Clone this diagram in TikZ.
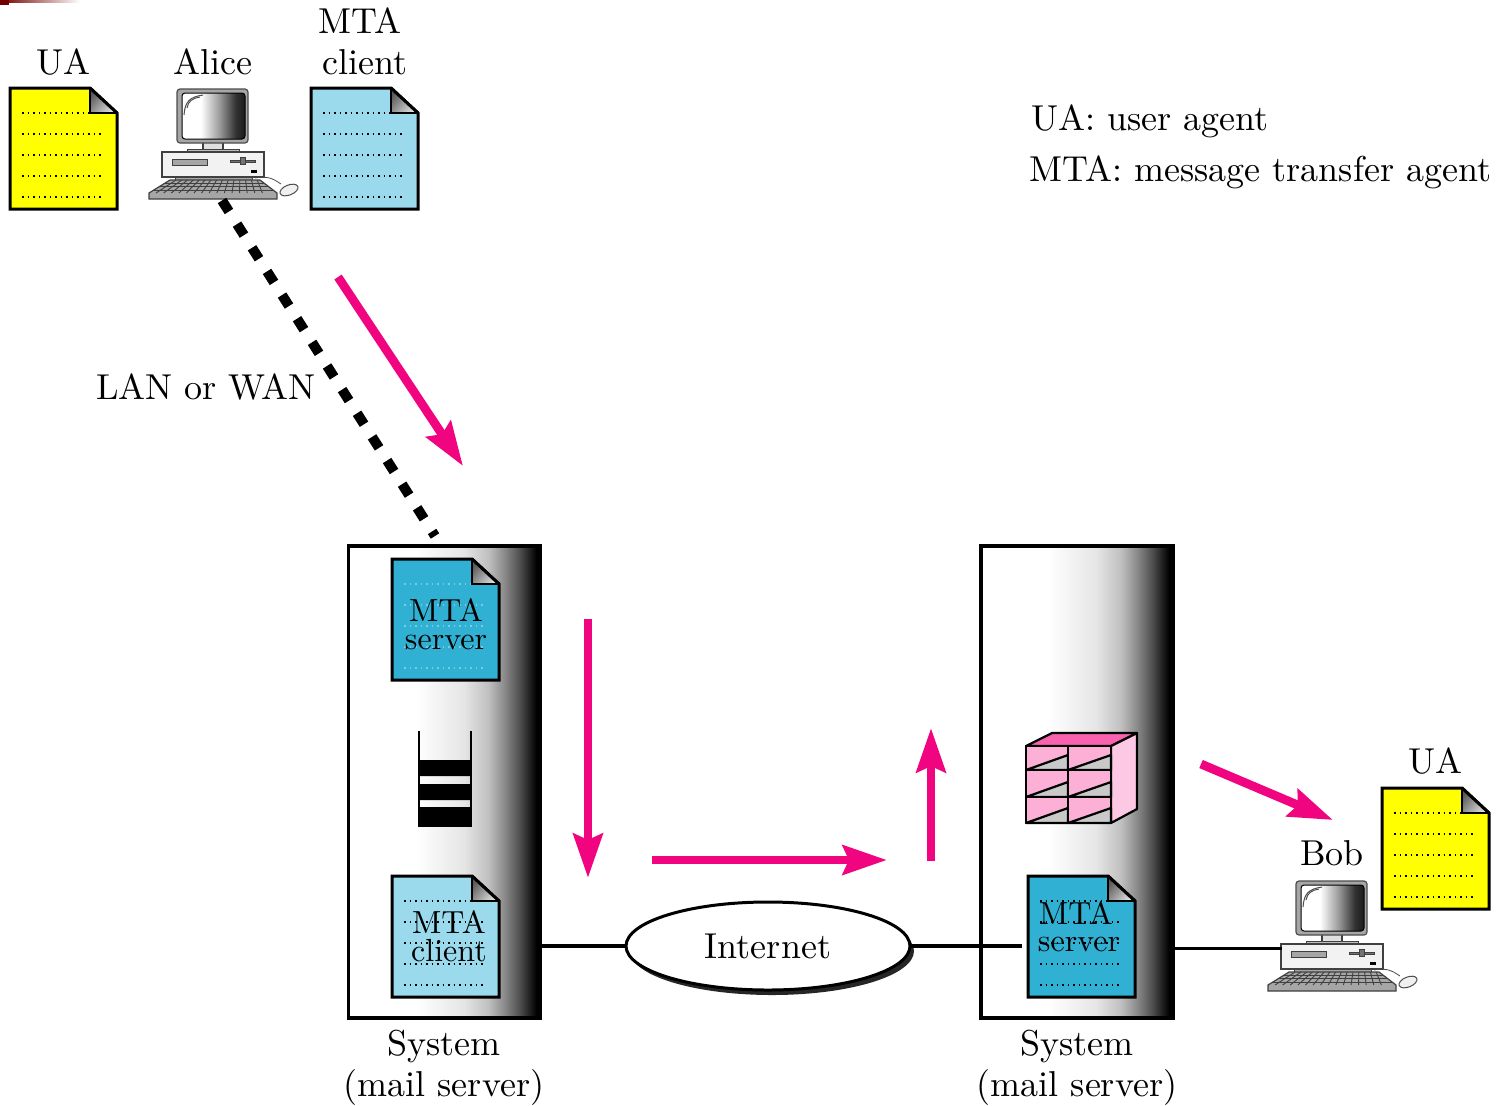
\documentclass[tikz,border=0pt]{standalone}
\usepackage{fontspec}
\setmainfont{lmroman10-regular}[Extension=.otf]
\usetikzlibrary{arrows.meta,shapes.geometric}
\definecolor{magen}{HTML}{F00480}
\definecolor{uayellow}{HTML}{FFFF00}
\definecolor{clientblue}{HTML}{9BD9EC}
\definecolor{serverblue}{HTML}{30B0D2}
\definecolor{boxpink}{HTML}{FCB0D6}
\definecolor{toppink}{HTML}{F962AE}
\definecolor{sidepink}{HTML}{FDC8E3}
\definecolor{slotgray}{HTML}{C9C9C9}
\pgfdeclarehorizontalshading{sysshade}{100bp}{color(0bp)=(white);color(42.5bp)=(white);color(55bp)=(black!10);color(61.5bp)=(black!25);color(66bp)=(black!48);color(70bp)=(black!72);color(74bp)=(black);color(100bp)=(black)}
\pgfdeclarehorizontalshading{screenshade}{100bp}{color(0bp)=(white);color(40bp)=(white);color(55bp)=(black!40);color(67.5bp)=(black!80);color(75bp)=(black!90);color(100bp)=(black!90)}
\tikzset{
  x=0.5pt,y=-0.5pt,
  lbl/.style={font=\fontsize{18}{20}\selectfont,anchor=base,inner sep=0pt,text=black},
  smalllbl/.style={lbl,font=\fontsize{16}{18}\selectfont},
  sysbox/.style={draw=black,line width=1.6pt,shading=sysshade,minimum width=96pt,minimum height=236pt,inner sep=0pt,outer sep=0pt},
  docnode/.style={minimum width=53.5pt,minimum height=60.5pt,inner sep=0pt,outer sep=0pt},
  docedge/.style={draw=black,line width=1.5pt,line join=miter},
  dotrow/.style={line width=0.75pt,dash pattern=on 0.75pt off 2pt},
  flow/.style={draw=magen,line width=4.4pt,-{Stealth[length=22pt,width=14.5pt,inset=3pt,fill=magen]}},
  wire/.style={draw=black,line width=1.7pt},
  lanlink/.style={draw=black,line width=5pt,dash pattern=on 6.5pt off 7.5pt},
  gearline/.style={draw=black!75,line width=0.5pt},
  cloudnode/.style={draw=black,line width=1.5pt,fill=white,ellipse,minimum width=142pt,minimum height=44pt,inner sep=0pt,outer sep=0pt,font=\fontsize{18}{20}\selectfont,text=black},
}
\newcommand{\docfile}[5]{%
  \node[docnode] (#1) at (#2+53.5,#3+60.5) {};
  \begin{scope}[shift={(#2,#3)}]
    \path[fill=#4,docedge] (0,0) -- (80,0) -- (107,25) -- (107,121) -- (0,121) -- cycle;
    \foreach \yy in {46,67,88,109} \draw[#5,dotrow] (12,\yy) -- (91,\yy);
    \draw[#5,dotrow] (12,25) -- (80,25);
    \shade[left color=black!65,right color=black!12,shading angle=50] (80,0) -- (107,25) -- (80,25) -- cycle;
    \draw[line width=1.3pt,line join=miter] (80,0) -- (80,25) -- (107,25);
    \draw[docedge] (80,0) -- (107,25);
  \end{scope}}
\newcommand{\computer}[3]{%
  \begin{scope}[shift={(#2,#3)}]
    \node[inner sep=0pt,outer sep=0pt,minimum width=64pt,minimum height=55pt] (#1) at (224,145) {};
    \path[fill=black!12,gearline,line width=0.6pt] (203,142) rectangle (223,150);
    \path[fill=black!25,gearline] (187,149) rectangle (239,153);
    \path[fill=black!35,draw=black!70,line width=0.6pt,rounded corners=1.5pt] (177,89) rectangle (248,143);
    \path[shading=screenshade,draw=black,line width=0.5pt,rounded corners=1.5pt] (182,93) rectangle (245,139);
    \draw[black!70,line width=0.5pt] (184,115) .. controls (185,101) and (190,97) .. (203,95);
    \draw[black!70,line width=0.5pt] (187,108) .. controls (188,101) and (193,98) .. (200,97);
    \path[fill=black!5,gearline,line width=0.6pt] (162,152) rectangle (264,177);
    \path[fill=black!35,gearline] (172,159) rectangle (207,165);
    \path[fill=black!55,gearline] (230,160) rectangle (255,162);
    \path[fill=black!55,gearline] (240,157) rectangle (245,164);
    \path[fill=black] (251,170) rectangle (257,173);
    \path[fill=black!35,gearline] (175,177) rectangle (252,180);
    \path[fill=black!35,gearline,line width=0.6pt] (170,180) -- (260,180) -- (277,193) -- (277,199) -- (149,199) -- (149,193) -- cycle;
    \foreach \ky in {183,186.5,190} \draw[black!75,line width=0.4pt] ({170-(\ky-180)*1.6},\ky) -- ({260+(\ky-180)*1.3},\ky);
    \foreach \kx in {0,...,14} \draw[black!75,line width=0.45pt] ({176+\kx*5.8},180) -- ({156+\kx*7.6},193);
    \draw[black!70,line width=0.4pt] (255,178) .. controls (268,176) and (272,178) .. (281,184);
    \path[fill=black!6,draw=black!70,line width=0.5pt,rotate around={22:(289,190)}] (289,190) ellipse [x radius=9.5,y radius=5];
  \end{scope}}
\begin{document}
\begin{tikzpicture}
\useasboundingbox (0,0) rectangle (1499,1105);
% slide corner mark
\shade[left color=red!45!black,right color=white] (0,0) rectangle (80,2);
\fill[red!45!black] (0,0) rectangle (9,5);
% connectors anchors
\coordinate (lanA) at (222,200.5);
\coordinate (lanB) at (435,536);
\coordinate (serverWire) at (1022,946);
\coordinate (bobPort) at (1282,948);
\coordinate (f1a) at (338,277); \coordinate (f1b) at (463,466);
\coordinate (f2a) at (588,619); \coordinate (f2b) at (588,878);
\coordinate (f3a) at (652,860); \coordinate (f3b) at (887,860);
\coordinate (f4a) at (931,861); \coordinate (f4b) at (931,728);
\coordinate (f5a) at (1201,764); \coordinate (f5b) at (1333,820);
% systems
\node[sysbox] (sysA) at (444.5,782) {};
\node[sysbox] (sysB) at (1077,782) {};
% documents
\docfile{uaA}{10}{88}{uayellow}{black}
\docfile{clientA}{311}{88}{clientblue}{black}
\docfile{serverA}{392}{559}{serverblue}{white!35!serverblue}
\docfile{clientS}{392}{876}{clientblue}{black}
\docfile{serverB}{1028}{876}{serverblue}{black}
\docfile{uaB}{1382}{788}{uayellow}{black}
% computers
\computer{alice}{0}{0}
\computer{bob}{1119}{792}
% queue
\node[inner sep=0pt,outer sep=0pt,minimum width=26pt,minimum height=48pt] (queue) at (445,778.5) {};
\fill[black] (419,760) rectangle (471,776) (419,784) rectangle (471,800) (419,807) rectangle (471,826);
\draw[black,line width=1pt] (419,731) -- (419,826) -- (471,826) -- (471,731);
% mailbox
\node[inner sep=0pt,outer sep=0pt,minimum width=55pt,minimum height=45pt] (mailbox) at (1081,778) {};
\begin{scope}[line width=1.1pt,draw=black,line join=round]
  \path[fill=toppink,draw] (1026,746) -- (1052,733) -- (1137,733) -- (1111,746) -- cycle;
  \path[fill=sidepink,draw] (1111,746) -- (1137,733) -- (1137,809) -- (1111,823) -- cycle;
  \foreach \cx/\cw in {1026/42,1068/43}
    \foreach \cy/\ch in {746/24,770/27,797/26} {
      \path[fill=boxpink] (\cx,\cy) rectangle ++(\cw,\ch);
      \path[fill=slotgray,draw] (\cx,\cy+\ch) -- (\cx+\cw,\cy+\ch-15) -- (\cx+\cw,\cy+\ch) -- cycle;
    }
  \draw (1026,746) rectangle (1111,823);
  \draw (1068,746) -- (1068,823);
  \draw (1026,770) -- (1111,770) (1026,797) -- (1111,797);
\end{scope}
% internet
\fill[black!85] (772,951) ellipse [x radius=142,y radius=44];
\node[cloudnode] (inet) at (768,946) {Internet};
% connectors
\draw[wire] (sysA.east |- inet.west) -- (inet.west);
\draw[wire] (inet.east) -- (serverWire);
\draw[wire,line width=1.5pt] (sysB.east |- bobPort) -- (bobPort);
\draw[lanlink] (lanA) -- (lanB);
\draw[flow] (f1a) -- (f1b);
\draw[flow] (f2a) -- (f2b);
\draw[flow] (f3a) -- (f3b);
\draw[flow] (f4a) -- (f4b);
\draw[flow] (f5a) -- (f5b);
% labels
\node[lbl] (tUA) at (63,74) {UA};
\node[lbl] (tAlice) at (213,74) {Alice};
\node[lbl] (tMTA) at (360,33) {MTA};
\node[lbl] (tClient) at (365,74) {client};
\node[lbl,anchor=base west] (tLeg1) at (1031,130) {UA: user agent};
\node[lbl,anchor=base west] (tLeg2) at (1029,181) {MTA: message transfer agent};
\node[lbl] (tLan) at (206,399) {LAN or WAN};
\node[smalllbl] (tS1a) at (446,621) {MTA};
\node[smalllbl] (tS1b) at (446,649) {server};
\node[smalllbl] (tC1a) at (449,933) {MTA};
\node[smalllbl] (tC1b) at (449,961) {client};
\node[smalllbl] (tS2a) at (1076,924) {MTA};
\node[smalllbl] (tS2b) at (1079,951) {server};
\node[lbl] (tSysA) at (444,1055) {System};
\node[lbl] (tMailA) at (444,1096) {(mail server)};
\node[lbl] (tSysB) at (1077,1055) {System};
\node[lbl] (tMailB) at (1077,1096) {(mail server)};
\node[lbl] (tBob) at (1332,865) {Bob};
\node[lbl] (tUAb) at (1435,773) {UA};
\end{tikzpicture}
\end{document}
